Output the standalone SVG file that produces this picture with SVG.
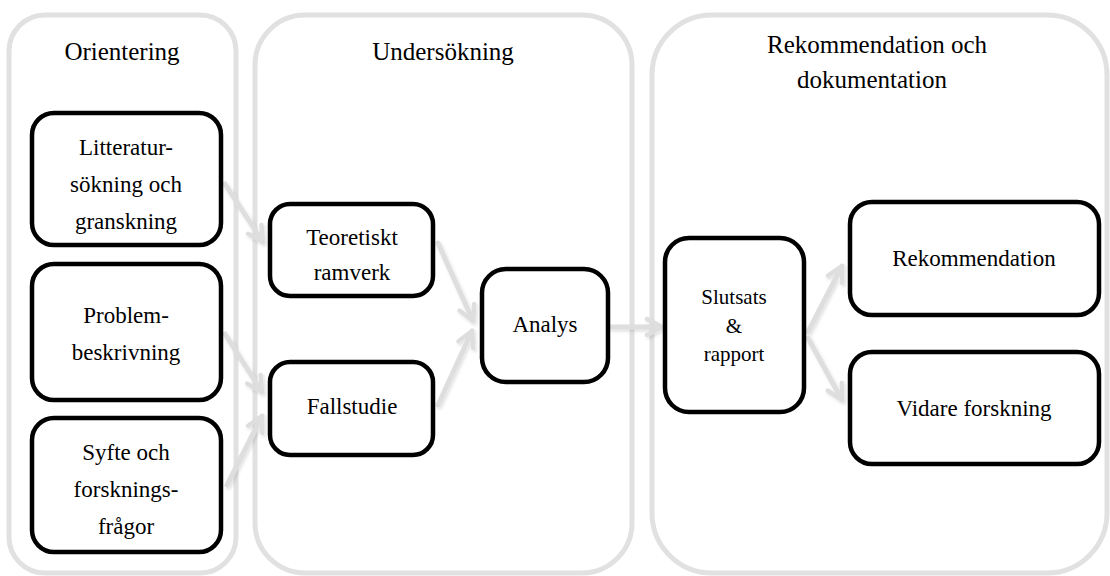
<svg xmlns="http://www.w3.org/2000/svg" width="1110" height="576" viewBox="0 0 1110 576">
  <style>
    .phase { fill: none; stroke: #e1e1e1; stroke-width: 5; }
    .box { fill: #ffffff; stroke: #000000; stroke-width: 4.5; }
    text { font-family: "Liberation Serif", "Times New Roman", "DejaVu Serif", serif; fill: #000; text-anchor: middle; }
    .head { font-size: 25px; }
    .lbl { font-size: 23px; }
    .lbl-s { font-size: 21px; }
    .flow { fill: none; stroke: #dedede; stroke-width: 5; stroke-linecap: round; }
  </style>
  <defs>
    <marker id="chev" viewBox="0 0 22 22" refX="19" refY="11" markerWidth="22" markerHeight="22" markerUnits="userSpaceOnUse" orient="auto">
      <path d="M4,3 L19,11 L4,19" fill="none" stroke="#dedede" stroke-width="4.5" stroke-linecap="round" stroke-linejoin="round"/>
    </marker>
    <filter id="soft" x="-20%" y="-20%" width="140%" height="140%">
      <feDropShadow dx="1.5" dy="2" stdDeviation="1.5" flood-color="#000" flood-opacity="0.12"/>
    </filter>
  </defs>

  <!-- phase panels -->
  <g id="phase-orientering">
    <rect class="phase" x="9" y="15" width="227" height="558" rx="36"/>
    <text class="head" x="122" y="60">Orientering</text>
  </g>
  <g id="phase-undersokning">
    <rect class="phase" x="255" y="15" width="377" height="558" rx="50"/>
    <text class="head" x="443" y="60">Undersökning</text>
  </g>
  <g id="phase-rekommendation">
    <rect class="phase" x="652" y="15" width="455" height="558" rx="60"/>
    <text class="head" x="877" y="53">Rekommendation och</text>
    <text class="head" x="872" y="88">dokumentation</text>
  </g>

  <!-- connectors -->
  <g id="connectors" filter="url(#soft)">
    <line class="flow" x1="225" y1="184" x2="263" y2="242" marker-end="url(#chev)"/>
    <line class="flow" x1="225" y1="334" x2="262" y2="392" marker-end="url(#chev)"/>
    <line class="flow" x1="227" y1="485" x2="262" y2="416" marker-end="url(#chev)"/>
    <line class="flow" x1="438" y1="243" x2="473" y2="321" marker-end="url(#chev)"/>
    <line class="flow" x1="438" y1="405" x2="472" y2="331" marker-end="url(#chev)"/>
    <line class="flow" x1="611" y1="327" x2="662" y2="327" marker-end="url(#chev)"/>
    <line class="flow" x1="808" y1="332" x2="842" y2="266" marker-end="url(#chev)"/>
    <line class="flow" x1="808" y1="338" x2="842" y2="400" marker-end="url(#chev)"/>
  </g>

  <!-- orientation nodes -->
  <g id="node-litteratur">
    <rect class="box" x="32" y="113" width="189" height="132" rx="22"/>
    <text class="lbl" x="126" y="155">Litteratur-</text>
    <text class="lbl" x="126" y="192">sökning och</text>
    <text class="lbl" x="126" y="229">granskning</text>
  </g>
  <g id="node-problem">
    <rect class="box" x="32" y="264" width="189" height="136" rx="22"/>
    <text class="lbl" x="126" y="323">Problem-</text>
    <text class="lbl" x="126" y="360">beskrivning</text>
  </g>
  <g id="node-syfte">
    <rect class="box" x="32" y="418" width="189" height="134" rx="22"/>
    <text class="lbl" x="126" y="460">Syfte och</text>
    <text class="lbl" x="126" y="497">forsknings-</text>
    <text class="lbl" x="126" y="534">frågor</text>
  </g>

  <!-- investigation nodes -->
  <g id="node-teoretiskt">
    <rect class="box" x="270" y="204" width="163" height="92" rx="20"/>
    <text class="lbl" x="352" y="245">Teoretiskt</text>
    <text class="lbl" x="352" y="280">ramverk</text>
  </g>
  <g id="node-fallstudie">
    <rect class="box" x="270" y="362" width="163" height="93" rx="20"/>
    <text class="lbl" x="352" y="414">Fallstudie</text>
  </g>
  <g id="node-analys">
    <rect class="box" x="482" y="269" width="126" height="113" rx="24"/>
    <text class="lbl" x="545" y="332">Analys</text>
  </g>

  <!-- recommendation nodes -->
  <g id="node-slutsats">
    <rect class="box" x="665" y="238" width="139" height="174" rx="24"/>
    <text class="lbl-s" x="734" y="304">Slutsats</text>
    <text class="lbl-s" x="734" y="333">&amp;</text>
    <text class="lbl-s" x="734" y="361">rapport</text>
  </g>
  <g id="node-rekommendation">
    <rect class="box" x="850" y="202" width="249" height="113" rx="22"/>
    <text class="lbl" x="974" y="266">Rekommendation</text>
  </g>
  <g id="node-vidare">
    <rect class="box" x="850" y="352" width="249" height="112" rx="22"/>
    <text class="lbl" x="974" y="416">Vidare forskning</text>
  </g>
</svg>
